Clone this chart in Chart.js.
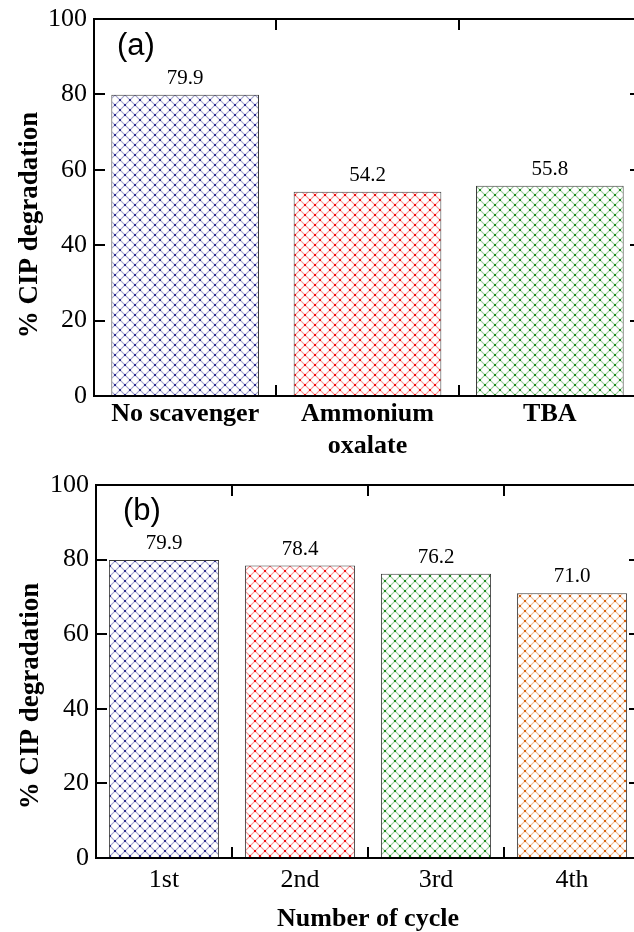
<!DOCTYPE html>
<html>
<head>
<meta charset="utf-8">
<script src="https://cdn.jsdelivr.net/npm/chart.js@4.4.1/dist/chart.umd.min.js"></script>
<style>
	html, body { margin: 0; padding: 0; background: #fff; overflow: hidden; }
	#wrap { position: relative; width: 634px; height: 932px; overflow: hidden; background: #fff; }
	#wrap canvas { position: absolute; left: 0; display: block; }
</style>
</head>
<body>
<div id="wrap">
	<canvas id="chartA" width="645" height="466" style="top:0px"></canvas>
	<canvas id="chartB" width="645" height="474" style="top:466px"></canvas>
</div>
<script>
// data panel (a) - scavenger test
var catsA = [['No scavenger'], ['Ammonium', 'oxalate'], ['TBA']];
var valsA = [79.9, 54.2, 55.8];
var hatchA = ['#2e2e8e', '#f01010', '#1e8a1e'];

// data panel (b) - reuse cycles
var catsB = ['1st', '2nd', '3rd', '4th'];
var valsB = [79.9, 78.4, 76.2, 71.0];
var hatchB = ['#2e2e8e', '#f01010', '#1e8a1e', '#d8640f'];

var yTicks = [0, 20, 40, 60, 80, 100];

var serif = "'Liberation Serif', 'Times New Roman', serif";
Chart.defaults.color = '#000';

var fig = {
	// crosshatch with darker dots at the crossings
	hatch: function (color) {
		var c = document.createElement('canvas');
		c.width = 10;
		c.height = 10;
		var g = c.getContext('2d');
		g.fillStyle = '#fff';
		g.fillRect(0, 0, 10, 10);
		g.strokeStyle = color;
		g.globalAlpha = 0.45;
		g.lineWidth = 1.1;
		g.beginPath();
		g.moveTo(0, 0); g.lineTo(10, 10);
		g.moveTo(10, 0); g.lineTo(0, 10);
		g.stroke();
		g.globalAlpha = 1;
		g.fillStyle = color;
		g.fillRect(4, 4, 2, 2);
		g.fillRect(0, 0, 1, 1); g.fillRect(9, 0, 1, 1);
		g.fillRect(0, 9, 1, 1); g.fillRect(9, 9, 1, 1);
		return g.createPattern(c, 'repeat');
	}, // end - hatch

	// box round the plot, ticks pointing inward, value labels, panel tag, y title
	decor: {
		id: 'decor',
		afterDatasetsDraw: function (chart, args, opts) {
			var ctx = chart.ctx;
			var a = chart.chartArea;
			var xs = chart.scales.x;
			var ys = chart.scales.y;
			var tl = 11;

			ctx.save();
			ctx.strokeStyle = '#000';
			ctx.lineWidth = 2;
			ctx.strokeRect(a.left, a.top, a.right - a.left, a.bottom - a.top);

			ctx.beginPath();
			ys.ticks.forEach(function (t) {
				if (t.value <= ys.min || t.value >= ys.max) return;
				var y = Math.round(ys.getPixelForValue(t.value));
				ctx.moveTo(a.left, y); ctx.lineTo(a.left + tl, y);
				ctx.moveTo(a.right, y); ctx.lineTo(a.right - tl, y);
			});
			for (var i = 1; i < chart.data.labels.length; i++) {
				var x = Math.round((xs.getPixelForValue(i - 1) + xs.getPixelForValue(i)) / 2);
				ctx.moveTo(x, a.bottom); ctx.lineTo(x, a.bottom - tl);
				ctx.moveTo(x, a.top); ctx.lineTo(x, a.top + tl);
			}
			ctx.stroke();

			// values over the bars
			var vals = chart.data.datasets[0].data;
			ctx.fillStyle = '#000';
			ctx.font = '21px ' + serif;
			ctx.textAlign = 'center';
			ctx.textBaseline = 'alphabetic';
			chart.getDatasetMeta(0).data.forEach(function (bar, k) {
				ctx.fillText(vals[k].toFixed(1), bar.x, bar.y - 11);
			});

			// panel tag
			ctx.textAlign = 'left';
			ctx.font = "31px 'Liberation Sans', Arial, sans-serif";
			ctx.fillText(opts.tag, a.left + opts.tagX, a.top + opts.tagY);

			// y title
			ctx.translate(opts.titleX, opts.titleY);
			ctx.rotate(-Math.PI / 2);
			ctx.textAlign = 'center';
			ctx.font = 'bold 27px ' + serif;
			ctx.fillText('% CIP degradation', 0, 0);
			ctx.restore();
		}
	}, // end - decor

	draw: function (id, cats, vals, colors, cfg) {
		return new Chart(id, {
			type: 'bar',
			data: {
				labels: cats,
				datasets: [{
					data: vals,
					backgroundColor: colors.map(fig.hatch),
					borderColor: '#3a3a3a',
					borderWidth: 1,
					borderSkipped: false,
					barPercentage: 0.81,
					categoryPercentage: 1
				}]
			},
			options: {
				responsive: false,
				animation: false,
				events: [],
				layout: { padding: { top: 19, right: cfg.padRight, left: 0, bottom: 0 } },
				plugins: {
					legend: { display: false },
					tooltip: { enabled: false },
					decor: cfg.decor
				},
				scales: {
					x: {
						grid: { display: false, drawTicks: false },
						border: { display: false },
						ticks: { font: cfg.xFont, padding: cfg.xPad, maxRotation: 0, autoSkip: false },
						title: cfg.xTitle,
						afterFit: function (s) {
							s.height = cfg.xHeight;
							s.paddingLeft = 0;
							s.paddingRight = 0;
						}
					},
					y: {
						min: 0,
						max: 100,
						afterBuildTicks: function (s) {
							s.ticks = yTicks.map(function (v) { return { value: v }; });
						},
						grid: { display: false, drawTicks: false },
						border: { display: false },
						ticks: { font: { family: serif, size: 26 }, padding: 7 },
						afterFit: function (s) {
							s.width = cfg.yWidth;
							s.paddingTop = 0;
							s.paddingBottom = 0;
						}
					}
				}
			},
			plugins: [fig.decor]
		});
	} // end - draw
};

fig.draw('chartA', catsA, valsA, hatchA, {
	padRight: 4,
	yWidth: 94,
	xHeight: 70,
	xPad: 3,
	xFont: { family: serif, size: 26, weight: 'bold' },
	xTitle: { display: false },
	decor: { tag: '(a)', tagX: 23, tagY: 36, titleX: 37, titleY: 225 }
});

fig.draw('chartB', catsB, valsB, hatchB, {
	padRight: 5,
	yWidth: 96,
	xHeight: 82,
	xPad: 7,
	xFont: { family: serif, size: 26 },
	xTitle: {
		display: true,
		text: 'Number of cycle',
		font: { family: serif, size: 26, weight: 'bold' },
		padding: { top: 0, bottom: 5 }
	},
	decor: { tag: '(b)', tagX: 27, tagY: 35, titleX: 38, titleY: 230 }
});
</script>
</body>
</html>
